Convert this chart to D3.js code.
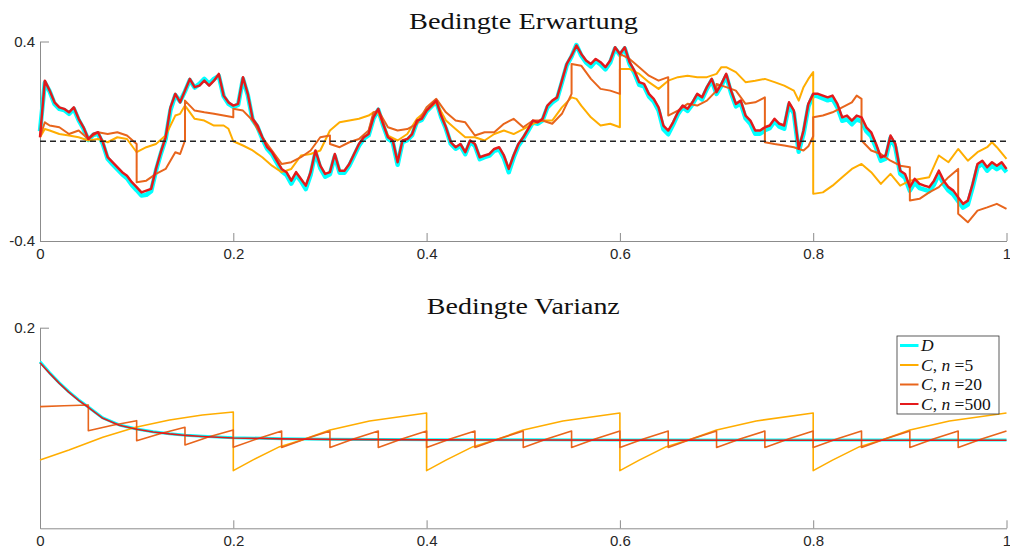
<!DOCTYPE html>
<html><head><meta charset="utf-8">
<script src="https://cdn.jsdelivr.net/npm/d3@7"></script>
<style>
html,body{margin:0;padding:0;background:#fff;}
svg{display:block;}
</style></head>
<body><svg id="c" width="1010" height="554"></svg>
<script>
// ---------- DATA ----------
const titles = ["Bedingte Erwartung", "Bedingte Varianz"];
const xTicks = [0, 0.2, 0.4, 0.6, 0.8, 1];
const xTickLabels = ["0", "0.2", "0.4", "0.6", "0.8", "1"];
const meanYTicks = [-0.4, 0.4];
const meanYTickLabels = ["-0.4", "0.4"];
const varYTicks = [0.2];
const varYTickLabels = ["0.2"];
const seriesNames = ["D", "C, n =5", "C, n =20", "C, n =500"];

// sampling times for D and n=500 mean paths (step 0.005)
const meanTimes = d3.range(201).map(i => i / 200);

const meanD = [
0.040,0.235,0.200,0.150,0.130,0.125,0.110,0.130,0.085,0.050,
0.005,0.025,0.030,-0.010,-0.070,-0.092,-0.112,-0.132,-0.148,-0.175,
-0.196,-0.218,-0.215,-0.200,-0.118,-0.050,0.010,0.125,0.185,0.160,
0.200,0.245,0.215,0.230,0.250,0.230,0.250,0.262,0.180,0.150,
0.138,0.146,0.250,0.185,0.085,0.058,0.010,-0.030,-0.052,-0.086,
-0.120,-0.135,-0.170,-0.135,-0.160,-0.192,-0.134,-0.045,-0.108,-0.142,
-0.132,-0.060,-0.126,-0.126,-0.098,-0.058,-0.018,0.010,0.024,0.090,
0.126,0.064,0.010,-0.004,-0.094,-0.004,0.004,0.024,0.078,0.086,
0.120,0.140,0.160,0.098,0.050,-0.010,-0.030,-0.018,-0.052,-0.004,
-0.018,-0.072,-0.064,-0.058,-0.038,-0.032,-0.068,-0.124,-0.066,-0.018,
0.010,0.042,0.076,0.070,0.084,0.136,0.156,0.170,0.236,0.304,
0.340,0.386,0.344,0.316,0.300,0.322,0.308,0.288,0.316,0.372,
0.346,0.372,0.310,0.274,0.226,0.220,0.180,0.160,0.124,0.048,
0.028,0.066,0.108,0.136,0.122,0.148,0.182,0.168,0.210,0.244,
0.190,0.222,0.262,0.194,0.140,0.152,0.092,0.070,0.030,0.030,
0.044,0.052,0.080,0.058,0.050,0.146,0.112,-0.042,0.030,0.140,
0.184,0.180,0.172,0.164,0.170,0.136,0.082,0.088,0.068,0.088,
0.080,0.040,0.020,-0.026,-0.078,-0.070,0.014,-0.024,-0.130,-0.146,
-0.198,-0.166,-0.188,-0.194,-0.200,-0.174,-0.132,-0.172,-0.198,-0.214,
-0.240,-0.266,-0.254,-0.184,-0.104,-0.090,-0.118,-0.098,-0.112,-0.100,
-0.124];

const meanN500 = [
0.016,0.243,0.203,0.156,0.136,0.130,0.116,0.136,0.090,0.056,
0.009,0.029,0.036,-0.004,-0.064,-0.084,-0.104,-0.124,-0.138,-0.164,
-0.184,-0.205,-0.198,-0.191,-0.111,-0.044,0.016,0.136,0.190,0.156,
0.203,0.250,0.217,0.223,0.243,0.223,0.243,0.270,0.183,0.156,
0.143,0.150,0.257,0.190,0.090,0.063,0.016,-0.024,-0.044,-0.078,
-0.111,-0.124,-0.158,-0.124,-0.151,-0.178,-0.124,-0.037,-0.098,-0.131,
-0.124,-0.051,-0.118,-0.118,-0.091,-0.051,-0.011,0.016,0.029,0.096,
0.130,0.070,0.016,0.003,-0.084,0.003,0.009,0.029,0.083,0.090,
0.123,0.143,0.163,0.103,0.056,-0.004,-0.024,-0.011,-0.044,0.003,
-0.011,-0.064,-0.057,-0.051,-0.031,-0.024,-0.057,-0.111,-0.057,-0.011,
0.016,0.049,0.083,0.076,0.090,0.143,0.163,0.176,0.243,0.310,
0.344,0.384,0.350,0.324,0.310,0.330,0.317,0.297,0.324,0.377,
0.350,0.377,0.317,0.283,0.237,0.230,0.190,0.170,0.136,0.063,
0.043,0.076,0.116,0.143,0.130,0.156,0.190,0.176,0.217,0.250,
0.197,0.230,0.270,0.203,0.150,0.163,0.103,0.083,0.043,0.043,
0.056,0.063,0.090,0.070,0.063,0.156,0.123,-0.030,0.043,0.150,
0.190,0.190,0.183,0.176,0.183,0.150,0.096,0.103,0.083,0.103,
0.096,0.056,0.036,-0.011,-0.064,-0.057,0.023,-0.011,-0.118,-0.131,
-0.184,-0.151,-0.171,-0.178,-0.184,-0.158,-0.118,-0.158,-0.184,-0.198,
-0.225,-0.251,-0.238,-0.171,-0.091,-0.078,-0.104,-0.084,-0.098,-0.084,
-0.111];

// [time, value] pairs (jumps at observation times)
const meanN5 = [[0,0.016],[0.005,0.049],[0.01,0.043],[0.02,0.029],[0.03,0.023],[0.04,0.016],[0.05,0.003],[0.06,0.009],[0.07,-0.004],[0.08,0.016],[0.09,0.009],[0.1,-0.044],[0.11,-0.024],[0.12,-0.011],[0.13,0.023],[0.14,0.103],[0.145,0.110],[0.15,0.143],[0.16,0.090],[0.17,0.083],[0.18,0.063],[0.19,0.063],[0.195,0.050],[0.2,0.000],[0.21,-0.017],[0.22,-0.037],[0.23,-0.064],[0.24,-0.098],[0.25,-0.124],[0.26,-0.111],[0.27,-0.057],[0.28,-0.051],[0.29,-0.037],[0.3,0.043],[0.31,0.076],[0.32,0.083],[0.33,0.090],[0.34,0.103],[0.345,0.116],[0.35,0.116],[0.36,0.023],[0.37,0.003],[0.38,0.029],[0.39,0.090],[0.4,0.123],[0.41,0.156],[0.42,0.083],[0.43,0.049],[0.44,0.016],[0.45,0.016],[0.46,0.003],[0.47,0.029],[0.48,0.043],[0.49,0.029],[0.5,0.049],[0.51,0.070],[0.52,0.083],[0.53,0.083],[0.54,0.136],[0.55,0.176],[0.555,0.170],[0.56,0.143],[0.57,0.096],[0.58,0.063],[0.59,0.070],[0.6,0.056],[0.6,0.290],[0.61,0.290],[0.62,0.270],[0.63,0.237],[0.64,0.210],[0.65,0.243],[0.66,0.257],[0.67,0.263],[0.68,0.257],[0.69,0.257],[0.7,0.270],[0.705,0.297],[0.71,0.297],[0.72,0.277],[0.73,0.237],[0.74,0.243],[0.75,0.250],[0.76,0.237],[0.77,0.223],[0.78,0.203],[0.785,0.163],[0.79,0.217],[0.795,0.250],[0.8,0.277],[0.8,-0.211],[0.81,-0.205],[0.82,-0.178],[0.83,-0.144],[0.84,-0.111],[0.85,-0.091],[0.86,-0.124],[0.87,-0.171],[0.88,-0.131],[0.89,-0.178],[0.9,-0.158],[0.91,-0.151],[0.92,-0.144],[0.93,-0.057],[0.94,-0.084],[0.95,-0.031],[0.96,-0.078],[0.97,-0.044],[0.98,-0.024],[0.985,-0.004],[0.99,-0.024],[1.0,-0.071]];

const meanN20 = [[0,0.016],[0.005,0.076],[0.01,0.063],[0.02,0.056],[0.03,0.029],[0.04,0.043],[0.05,0.009],[0.06,0.036],[0.07,0.029],[0.08,0.036],[0.09,0.023],[0.1,-0.011],[0.1,-0.164],[0.11,-0.158],[0.12,-0.131],[0.13,-0.111],[0.14,-0.044],[0.145,-0.051],[0.15,0.003],[0.15,0.163],[0.16,0.123],[0.17,0.116],[0.18,0.110],[0.19,0.103],[0.2,0.096],[0.2,0.130],[0.21,0.123],[0.22,0.083],[0.23,0.016],[0.24,-0.037],[0.25,-0.091],[0.26,-0.084],[0.27,-0.064],[0.28,-0.037],[0.29,0.016],[0.3,0.023],[0.3,-0.011],[0.31,-0.024],[0.32,-0.004],[0.33,0.009],[0.34,0.043],[0.345,0.116],[0.35,0.123],[0.36,0.056],[0.37,0.043],[0.38,0.049],[0.39,0.070],[0.4,0.136],[0.41,0.170],[0.42,0.116],[0.43,0.083],[0.44,0.076],[0.45,0.023],[0.46,0.036],[0.47,0.036],[0.48,0.070],[0.49,0.090],[0.5,0.056],[0.51,0.083],[0.52,0.083],[0.53,0.070],[0.54,0.110],[0.55,0.190],[0.55,0.310],[0.56,0.303],[0.57,0.250],[0.58,0.210],[0.59,0.203],[0.6,0.190],[0.6,0.350],[0.61,0.330],[0.62,0.297],[0.63,0.263],[0.64,0.243],[0.65,0.257],[0.65,0.103],[0.66,0.123],[0.67,0.150],[0.68,0.143],[0.69,0.163],[0.7,0.203],[0.7,0.230],[0.71,0.217],[0.72,0.203],[0.73,0.150],[0.74,0.156],[0.75,0.176],[0.75,-0.004],[0.76,-0.011],[0.77,-0.017],[0.78,-0.024],[0.79,-0.037],[0.795,-0.020],[0.8,0.020],[0.8,0.096],[0.81,0.103],[0.82,0.116],[0.83,0.136],[0.84,0.156],[0.845,0.183],[0.85,0.170],[0.85,0.003],[0.86,-0.037],[0.87,-0.051],[0.88,-0.078],[0.89,-0.098],[0.9,-0.104],[0.9,-0.238],[0.91,-0.231],[0.92,-0.205],[0.93,-0.184],[0.94,-0.144],[0.95,-0.111],[0.95,-0.291],[0.96,-0.325],[0.97,-0.278],[0.98,-0.265],[0.99,-0.251],[1.0,-0.271]];

// conditional variance, [time, value] pairs
const varD = [[0,0.166],[0.01,0.155],[0.02,0.145],[0.03,0.136],[0.04,0.128],[0.05,0.121],[0.065,0.110],[0.082,0.103],[0.1,0.0990],[0.117,0.0962],[0.134,0.0943],[0.151,0.0928],[0.168,0.0918],[0.189,0.0908],[0.2,0.0903],[0.25,0.0894],[0.3,0.0889],[0.4,0.0884],[0.5,0.0882],[0.6,0.0881],[0.8,0.0880],[1.0,0.0880]];
const varN500 = [[0,0.165],[0.01,0.1545],[0.02,0.1445],[0.03,0.1355],[0.04,0.1275],[0.05,0.1205],[0.065,0.1097],[0.082,0.1028],[0.1,0.0988],[0.117,0.0960],[0.134,0.0941],[0.151,0.0926],[0.168,0.0916],[0.189,0.0906],[0.2,0.0901],[0.25,0.0892],[0.3,0.0887],[0.4,0.0882],[0.5,0.0880],[0.6,0.0879],[0.8,0.0878],[1.0,0.0878]];
const varN5 = [[0,0.068],[0.03,0.078],[0.065,0.0907],[0.099,0.1007],[0.134,0.108],[0.168,0.113],[0.2,0.116],
[0.2,0.0575],[0.22,0.068],[0.248,0.0814],[0.271,0.088],[0.3,0.098],[0.341,0.107],[0.4,0.1150],
[0.4,0.0575],[0.42,0.068],[0.448,0.0814],[0.471,0.088],[0.5,0.098],[0.541,0.107],[0.6,0.1150],
[0.6,0.0575],[0.62,0.068],[0.648,0.0814],[0.671,0.088],[0.7,0.098],[0.741,0.107],[0.8,0.1150],
[0.8,0.0575],[0.82,0.068],[0.848,0.0814],[0.871,0.088],[0.9,0.098],[0.941,0.107],[1.0,0.1150]];
const varN20 = [[0,0.1213],[0.025,0.1222],[0.05,0.123],
[0.05,0.0973],[0.075,0.1028],[0.1,0.1073],
[0.1,0.0873],[0.125,0.0945],[0.15,0.1007],
[0.15,0.083],[0.175,0.0912],[0.2,0.098],
[0.2,0.0807],[0.225,0.0893],[0.25,0.097],
[0.25,0.0805],[0.275,0.0892],[0.3,0.097],
[0.3,0.0805],[0.325,0.0892],[0.35,0.097],
[0.35,0.0805],[0.375,0.0892],[0.4,0.097],
[0.4,0.0805],[0.425,0.0892],[0.45,0.097],
[0.45,0.0805],[0.475,0.0892],[0.5,0.097],
[0.5,0.0805],[0.525,0.0892],[0.55,0.097],
[0.55,0.0805],[0.575,0.0892],[0.6,0.097],
[0.6,0.0805],[0.625,0.0892],[0.65,0.097],
[0.65,0.0805],[0.675,0.0892],[0.7,0.097],
[0.7,0.0805],[0.725,0.0892],[0.75,0.097],
[0.75,0.0805],[0.775,0.0892],[0.8,0.097],
[0.8,0.0805],[0.825,0.0892],[0.85,0.097],
[0.85,0.0805],[0.875,0.0892],[0.9,0.097],
[0.9,0.0805],[0.925,0.0892],[0.95,0.097],
[0.95,0.0805],[0.975,0.0892],[1.0,0.097]];

// ---------- DRAW ----------
const colors = ["#00FFFF", "#FFAD00", "#E8651C", "#E41A1C"];
const svg = d3.select("#c");
const x = d3.scaleLinear().domain([0, 1]).range([40, 1006.5]);
const yMean = d3.scaleLinear().domain([-0.4, 0.4]).range([241, 41.5]);
const yVar = d3.scaleLinear().domain([0, 0.2]).range([528.3, 327.7]);

function drawAxes(y, yTicks, yLabels) {
  const gx = svg.append("g").attr("transform", `translate(0,${y.range()[0]})`)
    .call(d3.axisBottom(x).tickValues(xTicks).tickFormat((d, i) => xTickLabels[i])
      .tickSizeInner(-8).tickSizeOuter(0).tickPadding(7));
  const gy = svg.append("g").attr("transform", `translate(${x.range()[0]},0)`)
    .call(d3.axisLeft(y).tickValues(yTicks).tickFormat((d, i) => yLabels[i])
      .tickSizeInner(-9).tickSizeOuter(0).tickPadding(5));
  [gx, gy].forEach(g => {
    g.attr("font-family", "'Liberation Sans',Arial,sans-serif").attr("font-size", 15);
    g.select(".domain").attr("stroke", "#8c8c8c").attr("stroke-width", 1);
    g.selectAll(".tick line").attr("stroke", "#8c8c8c");
    g.selectAll(".tick text").attr("fill", "#262626");
  });
}

function title(text, cx, baseline, len) {
  svg.append("text").attr("x", cx).attr("y", baseline).attr("text-anchor", "middle")
    .attr("font-family", "'Liberation Serif','Times New Roman',serif").attr("font-size", 23)
    .attr("fill", "#111").attr("textLength", len).attr("lengthAdjust", "spacingAndGlyphs").text(text);
}

// top panel
drawAxes(yMean, meanYTicks, meanYTickLabels);
title(titles[0], 523.5, 28.5, 229);
const lineIdx = (arr) => d3.line().x((d, i) => x(meanTimes[i])).y(d => yMean(d))(arr);
const linePair = (y) => d3.line().x(d => x(d[0])).y(d => y(d[1]));
const gTop = svg.append("g").attr("fill", "none").attr("stroke-linejoin", "round");
gTop.append("path").attr("d", lineIdx(meanD)).attr("stroke", colors[0]).attr("stroke-width", 4.5);
gTop.append("path").attr("d", linePair(yMean)(meanN5)).attr("stroke", colors[1]).attr("stroke-width", 2);
gTop.append("path").attr("d", linePair(yMean)(meanN20)).attr("stroke", colors[2]).attr("stroke-width", 2);
gTop.append("path").attr("d", lineIdx(meanN500)).attr("stroke", colors[3]).attr("stroke-width", 2.5);
svg.append("line").attr("x1", x(0)).attr("x2", x(1)).attr("y1", yMean(0)).attr("y2", yMean(0))
  .attr("stroke", "#222").attr("stroke-width", 1.4).attr("stroke-dasharray", "6,4");

// bottom panel
drawAxes(yVar, varYTicks, varYTickLabels);
title(titles[1], 523.3, 313.5, 193);
const gBot = svg.append("g").attr("fill", "none").attr("stroke-linejoin", "round");
gBot.append("path").attr("d", linePair(yVar)(varD)).attr("stroke", colors[0]).attr("stroke-width", 3);
gBot.append("path").attr("d", linePair(yVar)(varN5)).attr("stroke", colors[1]).attr("stroke-width", 1.6);
gBot.append("path").attr("d", linePair(yVar)(varN20)).attr("stroke", colors[2]).attr("stroke-width", 1.6);
gBot.append("path").attr("d", linePair(yVar)(varN500)).attr("stroke", colors[3]).attr("stroke-width", 1.6);

// legend
const lg = svg.append("g");
lg.append("rect").attr("x", 897).attr("y", 336).attr("width", 102).attr("height", 78)
  .attr("fill", "#fff").attr("stroke", "#333").attr("stroke-width", 0.8);
const rowY = [345.5, 365, 384.5, 404];
const lw = [3, 2, 2, 2];
seriesNames.forEach((name, i) => {
  lg.append("line").attr("x1", 900).attr("x2", 918.5).attr("y1", rowY[i]).attr("y2", rowY[i])
    .attr("stroke", colors[i]).attr("stroke-width", lw[i]);
  const t = lg.append("text").attr("x", 921).attr("y", rowY[i] + 5.5)
    .attr("font-family", "'Liberation Serif','Times New Roman',serif").attr("font-size", 17.5).attr("fill", "#111");
  if (i === 0) {
    t.append("tspan").attr("font-style", "italic").text("D");
  } else {
    const parts = name.split(", n =");
    t.append("tspan").attr("font-style", "italic").text(parts[0]);
    t.append("tspan").text(", ");
    t.append("tspan").attr("font-style", "italic").text("n");
    t.append("tspan").text(" =" + parts[1]);
  }
});
</script></body></html>
